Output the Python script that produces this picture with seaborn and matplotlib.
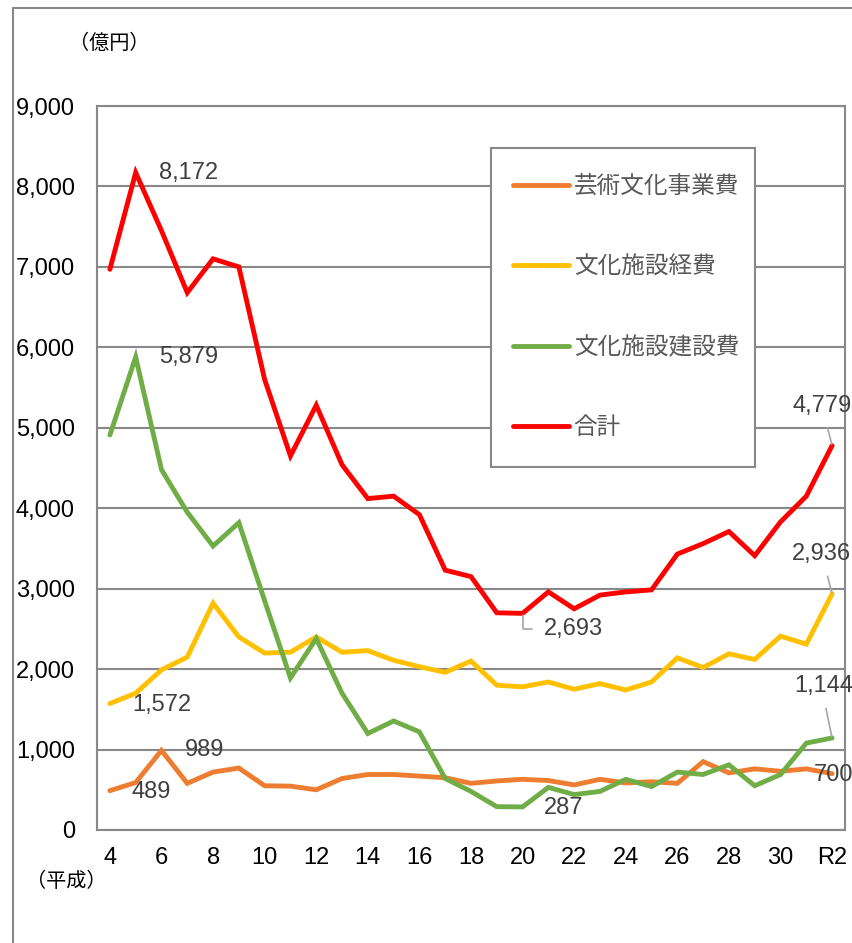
import pandas as pd
import matplotlib
matplotlib.use("Agg")
import matplotlib.pyplot as plt
import seaborn as sns
from matplotlib.lines import Line2D
from matplotlib.patches import Rectangle

# 年度 (平成4 ～ 令和2)
years = ["4", "5", "6", "7", "8", "9", "10", "11", "12", "13", "14", "15", "16",
         "17", "18", "19", "20", "21", "22", "23", "24", "25", "26", "27", "28",
         "29", "30", "31", "R2"]

# 億円
arts = [489, 590, 989, 580, 720, 770, 550, 545, 500, 640, 690, 690, 670, 650,
        580, 610, 630, 615, 560, 630, 585, 600, 580, 850, 710, 760, 730, 760, 700]
facility_ops = [1572, 1700, 1990, 2150, 2820, 2400, 2200, 2210, 2400, 2210, 2230,
                2110, 2030, 1960, 2100, 1800, 1780, 1840, 1750, 1820, 1740, 1840,
                2140, 2020, 2190, 2120, 2410, 2310, 2936]
facility_build = [4910, 5879, 4480, 3950, 3530, 3820, 2850, 1890, 2380, 1700, 1200,
                  1355, 1220, 640, 480, 290, 287, 530, 440, 480, 630, 540, 720, 690,
                  810, 550, 690, 1080, 1144]
total = [6970, 8172, 7450, 6680, 7100, 7000, 5600, 4650, 5280, 4540, 4120, 4150,
         3920, 3230, 3150, 2700, 2693, 2960, 2750, 2920, 2960, 2985, 3430, 3560,
         3710, 3410, 3830, 4150, 4779]

series_names = ["芸術文化事業費", "文化施設経費", "文化施設建設費", "合計"]
series_colors = ["#ED7D31", "#FFC000", "#70AD47", "#FF0000"]
tick_labels = ["4", "6", "8", "10", "12", "14", "16", "18", "20", "22", "24", "26",
               "28", "30", "R2"]

sns.set_style("white")
plt.rcParams["font.family"] = ["Liberation Sans", "Noto Sans CJK JP", "DejaVu Sans"]

wide = pd.DataFrame({"pos": range(len(years)), "year": years,
                     series_names[0]: arts, series_names[1]: facility_ops,
                     series_names[2]: facility_build, series_names[3]: total})
df = wide.melt(id_vars=["pos", "year"], var_name="series", value_name="value")

W, H = 852, 943
fig = plt.figure(figsize=(W / 100, H / 100), dpi=100)
ax = fig.add_axes([97 / W, 1 - 830 / H, 748 / W, 724 / H])

sns.lineplot(data=df, x="pos", y="value", hue="series", hue_order=series_names,
             palette=series_colors, linewidth=3.5, sort=False, ax=ax,
             solid_capstyle="round", solid_joinstyle="miter")

grey = "#888888"
num_size = 17
ax.set_xlim(-0.5, len(years) - 0.5)
ax.set_ylim(0, 9000)
ax.set_yticks(range(0, 9001, 1000))
ax.set_yticklabels([f"{v:,}" for v in range(0, 9001, 1000)])
ax.set_xticks(range(0, len(years), 2))
ax.set_xticklabels(tick_labels)
ax.tick_params(axis="y", length=0, pad=16, labelsize=num_size, labelcolor="#000000")
ax.tick_params(axis="x", length=0, pad=12, labelsize=num_size, labelcolor="#000000")
ax.set_xlabel("")
ax.set_ylabel("")
ax.yaxis.grid(True, color=grey, linewidth=1.5)
ax.set_axisbelow(True)
for sp in ax.spines.values():
    sp.set_color(grey)
    sp.set_linewidth(1.5)

# legend box (white, hides the gridlines behind it)
box = Rectangle((491 / W, 1 - 467 / H), 264 / W, 319 / H, transform=fig.transFigure,
                facecolor="white", edgecolor=grey, linewidth=1.5, zorder=4)
ax.add_artist(box)

handles, labels = ax.get_legend_handles_labels()
for h in handles:
    h.set_linewidth(3.5)
    h.set_solid_capstyle("round")
leg = ax.legend(handles, labels, loc="center left",
                bbox_to_anchor=(513 / W, 1 - 307.5 / H),
                bbox_transform=fig.transFigure, frameon=False, prop={"size": 17},
                labelspacing=2.47, handlelength=2.37, handletextpad=0.2,
                borderpad=0, borderaxespad=0)
leg.set_zorder(5)
for t in leg.get_texts():
    t.set_color("#595959")

# data labels
lab_col = "#404040"
lead = dict(arrowstyle="-", color="#A6A6A6", lw=1.2)


def label(i, vals, dx, dy, ha="left", arrow=None):
    ax.annotate(f"{vals[i]:,}", xy=(i, vals[i]), xytext=(dx, dy),
                textcoords="offset pixels", ha=ha, va="center", fontsize=num_size,
                color=lab_col, annotation_clip=False, arrowprops=arrow)


label(1, total, 23, 0)
label(1, facility_build, 23, 0)
label(0, facility_ops, 22, -1)
label(0, arts, 22, -1)
label(2, arts, 23, 0)
label(16, total, 21, -16,
      arrow=dict(lead, connectionstyle="angle,angleA=180,angleB=90,rad=0",
                 relpos=(0, 0.5), shrinkA=6, shrinkB=1))
label(16, facility_build, 21, -1)
n = len(years) - 1
label(n, total, -40, 40, arrow=dict(lead, relpos=(0.55, 0), shrinkA=6, shrinkB=1))
label(n, facility_ops, -40, 40, arrow=dict(lead, relpos=(0.55, 0), shrinkA=6, shrinkB=1))
label(n, facility_build, -38, 52, arrow=dict(lead, relpos=(0.5, 0), shrinkA=6, shrinkB=1))
label(n, arts, -18, -1)

# unit labels
fig.text(109 / W, 1 - 43 / H, "（億円）", ha="center", va="center",
         fontsize=14.5, color="#000000")
fig.text(66 / W, 1 - 881 / H, "（平成）", ha="center", va="center",
         fontsize=14.5, color="#000000")

# outer frame of the chart area
fig.add_artist(Line2D([13 / W, 13 / W], [0, 1 - 8 / H],
                      transform=fig.transFigure, color=grey, lw=1.5))
fig.add_artist(Line2D([13 / W, 1], [1 - 8 / H, 1 - 8 / H],
                      transform=fig.transFigure, color=grey, lw=1.5))

fig.savefig("out.png", dpi=100)
